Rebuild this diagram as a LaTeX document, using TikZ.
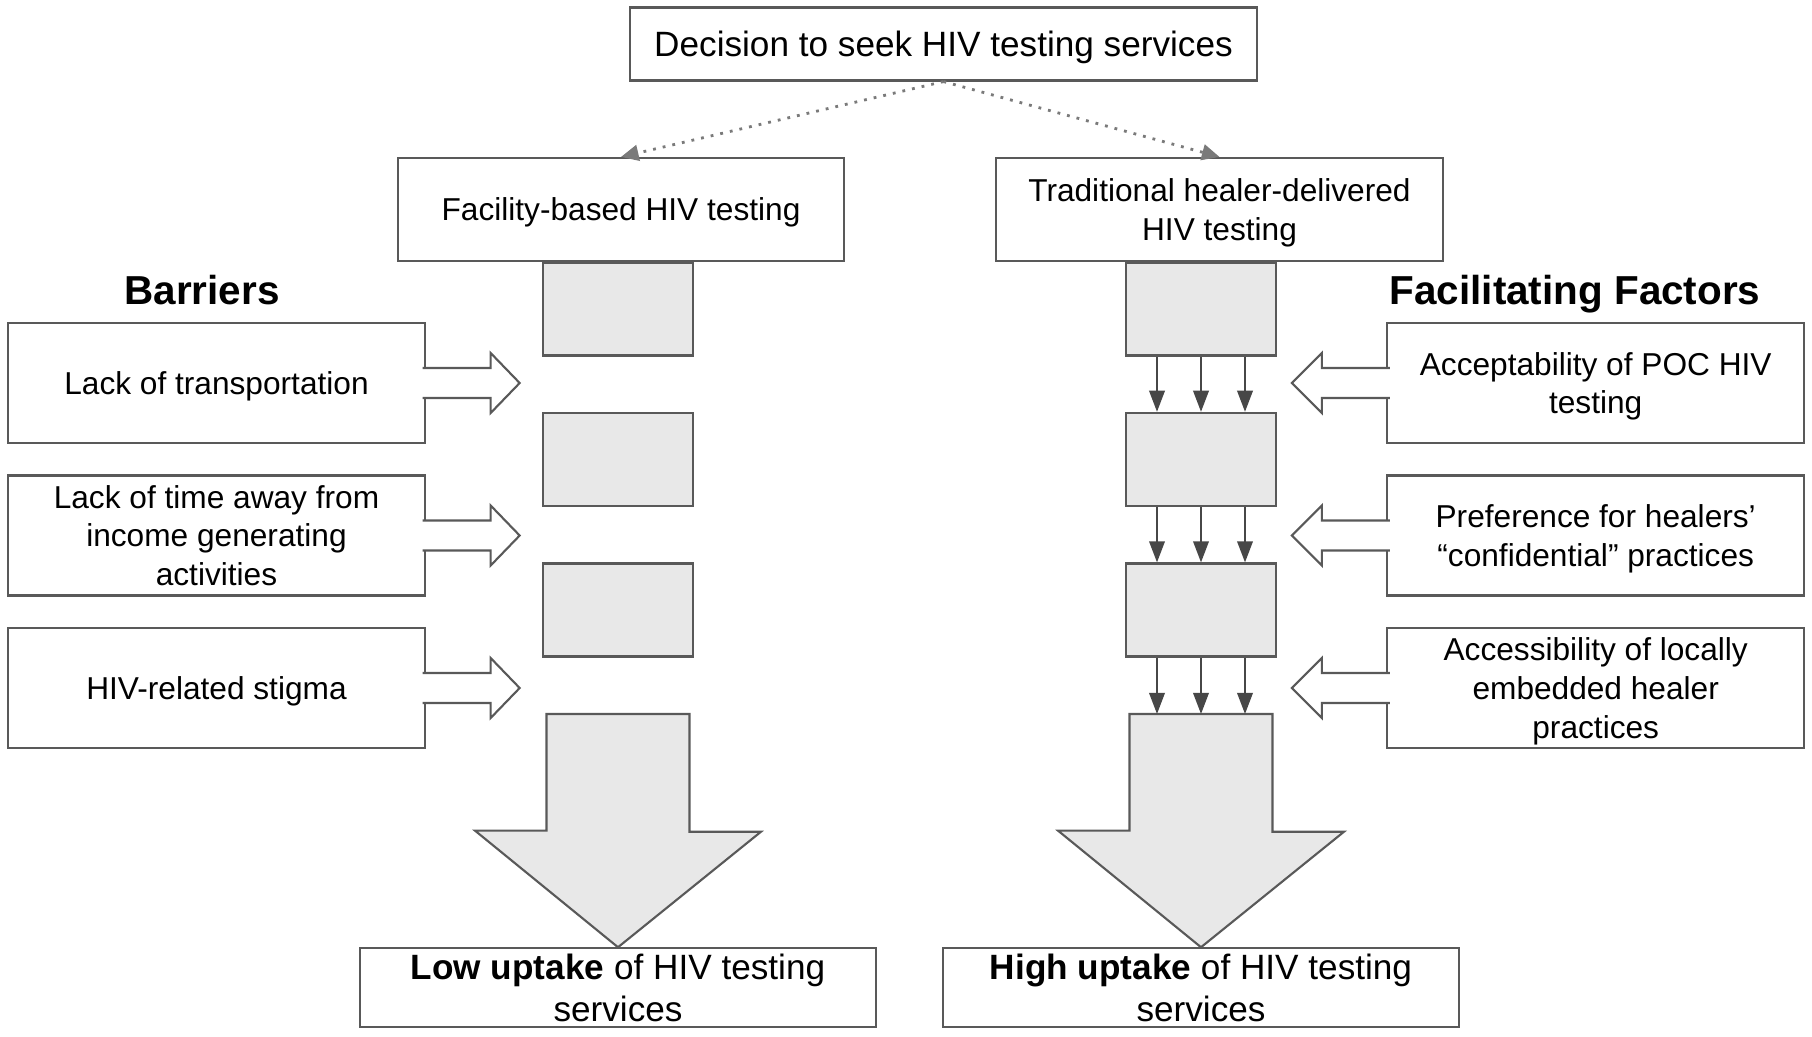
\documentclass[tikz,border=0pt]{standalone}
\usepackage{fontspec}
\setmainfont{Liberation Sans}
\usetikzlibrary{arrows.meta}
\definecolor{boxline}{HTML}{595959}
\definecolor{boxfill}{HTML}{E8E8E8}

\tikzset{
  textbox/.style={draw=boxline, line width=0.6pt, fill=white, inner sep=0pt,
    align=center, text depth=0pt, font=\fontsize{9pt}{11pt}\selectfont},
  graybox/.style={draw=boxline, line width=0.6pt, fill=boxfill, inner sep=0pt,
    minimum width=1.5cm, minimum height=0.93cm},
  heading/.style={font=\fontsize{11.5pt}{13pt}\selectfont\bfseries, anchor=base},
  choice/.style={draw=boxline!80, line width=0.8pt, dotted,
    -{Triangle[length=5pt,width=4.5pt]}},
  flow/.style={draw=boxline!80!black, line width=0.6pt,
    -{Triangle[length=6pt,width=4.4pt]}},
  blockarrow/.style={draw=boxline, line width=0.6pt, fill=white},
  bigarrow/.style={draw=boxline, line width=0.6pt, fill=boxfill},
}

\begin{document}
\begin{tikzpicture}[x=0.01cm, y=-0.01cm]
	\useasboundingbox (0,0) rectangle (1812,1036);
	% decision and the two pathways
	\node[textbox, minimum width=6.27cm, minimum height=0.73cm,
	  font=\fontsize{10pt}{12pt}\selectfont] (decide) at (943.5,44)
	  {Decision to seek HIV testing services};
	\node[textbox, minimum width=4.46cm, minimum height=1.03cm] (facility) at (621,209.5)
	  {Facility-based HIV testing};
	\node[textbox, minimum width=4.46cm, minimum height=1.03cm] (healer) at (1219.5,209.5)
	  {Traditional healer-delivered\\HIV testing};
	\draw[choice] (decide.south) -- (facility.north);
	\draw[choice] (decide.south) -- (healer.north);
	% headings
	\node[heading] (barriers) at (202,304) {Barriers};
	\node[heading] (factors) at (1575,304) {Facilitating Factors};
	% steps
	\foreach \n/\y in {1/309,2/459.4,3/610}{
		\node[graybox] (lstep\n) at (618,\y) {};
		\node[graybox] (rstep\n) at (1201,\y) {};
	}
	\coordinate (lshaft) at (618,714);
	\coordinate (rshaft) at (1201,714);
	% barriers
	\node[textbox, minimum width=4.17cm, minimum height=1.2cm] (bar1) at (216.5,383)
	  {Lack of transportation};
	\node[textbox, minimum width=4.17cm, minimum height=1.2cm] (bar2) at (216.5,535.5)
	  {Lack of time away from\\income generating\\activities};
	\node[textbox, minimum width=4.17cm, minimum height=1.2cm] (bar3) at (216.5,688)
	  {HIV-related stigma};
	% facilitating factors
	\node[textbox, minimum width=4.165cm, minimum height=1.2cm] (fac1) at (1595.7,383)
	  {Acceptability of POC HIV\\testing};
	\node[textbox, minimum width=4.165cm, minimum height=1.2cm] (fac2) at (1595.7,535.5)
	  {Preference for healers’\\“confidential” practices};
	\node[textbox, minimum width=4.165cm, minimum height=1.2cm] (fac3) at (1595.7,688)
	  {Accessibility of locally\\embedded healer\\practices};
	\foreach \n in {1,2,3}{
		\filldraw[blockarrow] ([xshift=-1pt]bar\n.east) ++(0,-15) -- ++(68,0) -- ++(0,-15)
		  -- ++(29,30) -- ++(-29,30) -- ++(0,-15) -- ++(-68,0);
		\filldraw[blockarrow] ([xshift=1pt]fac\n.west) ++(0,-15) -- ++(-68,0) -- ++(0,-15)
		  -- ++(-30,30) -- ++(30,30) -- ++(0,-15) -- ++(68,0);
	}
	% outcomes
	\node[textbox, minimum width=5.15cm, minimum height=0.784cm,
	  font=\fontsize{10pt}{12pt}\selectfont] (low) at (618,987.5)
	  {\textbf{Low uptake} of HIV testing\\services};
	\node[textbox, minimum width=5.15cm, minimum height=0.784cm,
	  font=\fontsize{10pt}{12pt}\selectfont] (high) at (1201,987.5)
	  {\textbf{High uptake} of HIV testing\\services};
	\draw[bigarrow] (lshaft) ++(-71.5,0) -- ++(143,0) -- ++(0,117.7) -- ++(71.5,0)
	  -- (low.north) -- ++(-143,-116.6) -- ++(71.5,0) -- cycle;
	\draw[bigarrow] (rshaft) ++(-71.5,0) -- ++(143,0) -- ++(0,117.7) -- ++(71.5,0)
	  -- (high.north) -- ++(-143,-116.6) -- ++(71.5,0) -- cycle;
	% healer pathway flows through
	\foreach \dx in {-44,0,44}{
		\draw[flow] ([xshift=\dx*0.01cm]rstep1.south) -- ([xshift=\dx*0.01cm]rstep2.north);
		\draw[flow] ([xshift=\dx*0.01cm]rstep2.south) -- ([xshift=\dx*0.01cm]rstep3.north);
		\draw[flow] ([xshift=\dx*0.01cm]rstep3.south) -- ([xshift=\dx*0.01cm]rshaft);
	}
\end{tikzpicture}
\end{document}
